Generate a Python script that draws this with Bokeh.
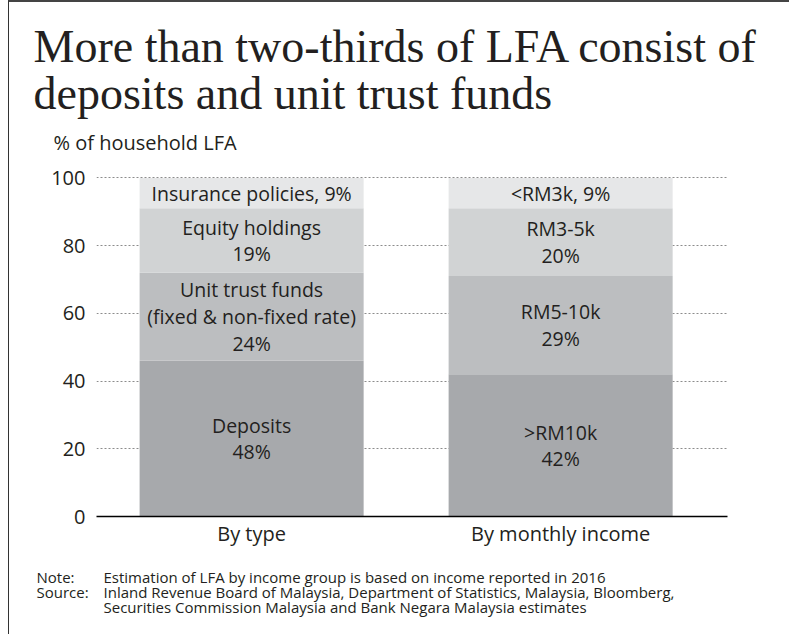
from bokeh.plotting import figure
from bokeh.layouts import column
from bokeh.models import Range1d, FixedTicker, ColumnDataSource
from bokeh.core.properties import value
from bokeh.embed import file_html
from bokeh.resources import INLINE

# ---------------- data ----------------
categories = ["By type", "By monthly income"]

type_segments = ["Deposits", "Unit trust funds", "Equity holdings", "Insurance policies"]
type_values = [46, 26, 19, 9]
type_labels = ["Deposits\n48%",
               "Unit trust funds\n(fixed & non-fixed rate)\n24%",
               "Equity holdings\n19%",
               "Insurance policies, 9%"]

income_segments = [">RM10k", "RM5-10k", "RM3-5k", "<RM3k"]
income_values = [42, 29, 20, 9]
income_labels = [">RM10k\n42%", "RM5-10k\n29%", "RM3-5k\n20%", "<RM3k, 9%"]

y_ticks = [0, 20, 40, 60, 80, 100]

title_lines = ["More than two-thirds of LFA consist of", "deposits and unit trust funds"]
y_unit = "% of household LFA"
note_heads = ["Note:", "Source:", ""]
note_lines = ["Estimation of LFA by income group is based on income reported in 2016",
              "Inland Revenue Board of Malaysia, Department of Statistics, Malaysia, Bloomberg,",
              "Securities Commission Malaysia and Bank Negara Malaysia estimates"]

# ---------------- style ----------------
shades = ["#a7a9ac", "#bcbec0", "#d1d3d4", "#e6e7e8"]
TXT = "#231f20"
SANS = "Open Sans"
SERIF = "Liberation Serif"

W = 780
H_HEAD, H_CHART, H_FOOT = 156, 398, 78


def blank_panel(h):
    f = figure(width=W, height=h, x_range=Range1d(0, W), y_range=Range1d(h, 0),
               output_backend="svg", toolbar_location=None, title_location=None,
               x_axis_location=None, y_axis_location=None,
               min_border=0, min_border_left=0, min_border_right=0,
               min_border_top=0, min_border_bottom=0, frame_align=False)
    f.outline_line_color = None
    f.xgrid.grid_line_color = None
    f.ygrid.grid_line_color = None
    f.background_fill_color = "white"
    f.border_fill_color = "white"
    return f


# ---------------- header ----------------
head = blank_panel(H_HEAD)
head.text(x=[24, 24], y=[44, 91], text=title_lines, text_font=value(SERIF),
          text_font_size="46px", text_color=TXT, text_baseline="alphabetic")
head.text(x=[44], y=[140], text=[y_unit], text_font=value(SANS),
          text_font_size="20px", text_color=TXT, text_baseline="alphabetic")

# ---------------- chart ----------------
p = figure(width=W, height=H_CHART, x_range=Range1d(-0.502, 1.540), y_range=Range1d(0, 101),
           output_backend="svg", toolbar_location=None, title_location=None, frame_align=False,
           min_border_left=87, min_border_right=62, min_border_top=16, min_border_bottom=40)
p.outline_line_color = None
p.background_fill_color = "white"
p.border_fill_color = "white"

bar_w = 0.725
for xi, (vals, labs) in enumerate([(type_values, type_labels), (income_values, income_labels)]):
    bottoms, tops = [], []
    acc = 0
    for v in vals:
        bottoms.append(acc)
        acc += v
        tops.append(acc)
    src = ColumnDataSource(dict(x=[xi] * len(vals), bottom=bottoms, top=tops, color=shades,
                                mid=[(b + t) / 2 for b, t in zip(bottoms, tops)], label=labs))
    p.vbar(x="x", bottom="bottom", top="top", width=bar_w, fill_color="color",
           line_color=None, source=src)
    p.text(x="x", y="mid", text="label", source=src, text_align="center",
           text_baseline="middle", text_font=value(SANS), text_font_size="19.5px",
           text_color=TXT, text_line_height=0.99)

p.xgrid.grid_line_color = None
p.ygrid.ticker = FixedTicker(ticks=y_ticks)
p.ygrid.grid_line_color = "#8c8c8c"
p.ygrid.grid_line_dash = "2 2"
p.ygrid.grid_line_width = 1

p.yaxis.ticker = FixedTicker(ticks=y_ticks)
p.yaxis.axis_line_color = None
p.yaxis.major_tick_line_color = None
p.yaxis.minor_tick_line_color = None
p.yaxis.major_label_standoff = 5
p.yaxis.major_label_text_font = SANS
p.yaxis.major_label_text_font_size = "20px"
p.yaxis.major_label_text_color = TXT

p.xaxis.ticker = FixedTicker(ticks=[0, 1])
p.xaxis.major_label_overrides = {0: categories[0], 1: categories[1]}
p.xaxis.axis_line_color = "black"
p.xaxis.axis_line_width = 1.5
p.xaxis.major_tick_line_color = None
p.xaxis.minor_tick_line_color = None
p.xaxis.major_label_standoff = -3
p.xaxis.major_label_text_font = SANS
p.xaxis.major_label_text_font_size = "20px"
p.xaxis.major_label_text_color = TXT

# ---------------- footer ----------------
foot = blank_panel(H_FOOT)
foot.text(x=[27] * 3, y=[20, 35, 50], text=note_heads, text_font=value(SANS),
          text_font_size="15px", text_color=TXT, text_baseline="alphabetic")
foot.text(x=[94] * 3, y=[20, 35, 50], text=note_lines, text_font=value(SANS),
          text_font_size="15px", text_color=TXT, text_baseline="alphabetic")

layout = column(head, p, foot, spacing=0)
layout.styles = {"border-left": "1px solid #333333", "border-top": "2px solid #444444",
                 "margin-left": "8px"}

open("out.html", "w").write(file_html(layout, INLINE))
